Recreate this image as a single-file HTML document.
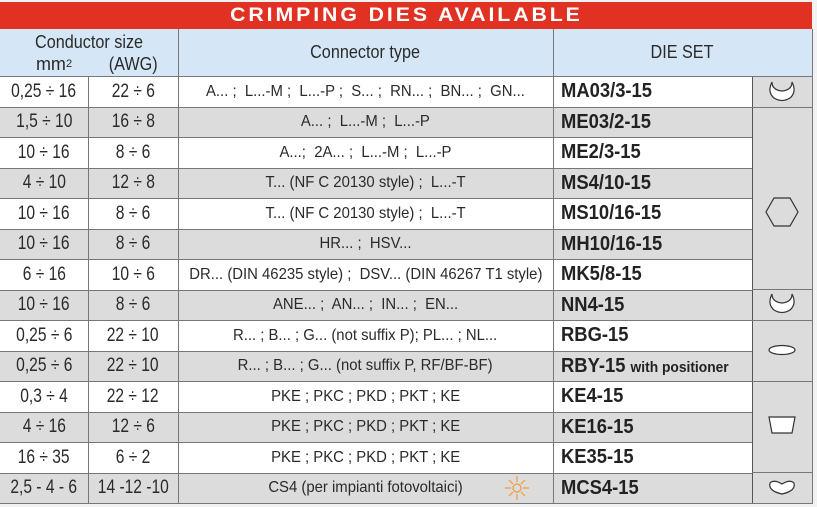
<!DOCTYPE html>
<html><head><meta charset="utf-8"><style>
*{margin:0;padding:0;box-sizing:border-box}
body{width:817px;height:507px;background:#f2f2f2;position:relative;overflow:hidden;font-family:"Liberation Sans",sans-serif;color:#2a2a2a}
.a{position:absolute;display:flex;align-items:center;justify-content:center;white-space:nowrap}
.a span{display:inline-block}
.r{position:absolute;left:0;width:812px;height:31px;border-top:1px solid #777}
.v{position:absolute;width:1px;background:#777}
</style></head><body>
<div class="a" style="left:0;top:2px;width:812px;height:27px;background:#e03122;color:#fff;font-weight:900;font-size:19px;letter-spacing:2.6px"><span style="transform:scaleX(1.12)">CRIMPING DIES AVAILABLE</span></div>
<div style="position:absolute;left:0;top:29px;width:812px;height:47px;background:#d5e7f6"></div>
<div class="a" style="left:0;top:31px;width:178px;height:22px;font-size:18px"><span style="transform:scaleX(0.9)">Conductor size</span></div>
<div class="a" style="left:0;top:52px;width:88px;height:24px;font-size:18px;padding-left:20px">mm<sup style="font-size:11px;vertical-align:8px">2</sup></div>
<div class="a" style="left:88px;top:52px;width:90px;height:24px;font-size:18px"><span style="transform:scaleX(0.9)">(AWG)</span></div>
<div class="a" style="left:178px;top:29px;width:375px;height:47px;font-size:18px"><span style="transform:scaleX(0.9)">Connector type</span></div>
<div class="a" style="left:553px;top:29px;width:259px;height:47px;font-size:18px"><span style="transform:scaleX(0.9)">DIE SET</span></div>
<div id="rows"></div>
<script>
var d=[
["0,25 ÷ 16","22 ÷ 6","A... ;&nbsp; L...-M ;&nbsp; L...-P ;&nbsp; S... ;&nbsp; RN... ;&nbsp; BN... ;&nbsp; GN...","MA03/3-15"],
["1,5 ÷ 10","16 ÷ 8","A... ;&nbsp; L...-M ;&nbsp; L...-P","ME03/2-15"],
["10 ÷ 16","8 ÷ 6","A...;&nbsp; 2A... ;&nbsp; L...-M ;&nbsp; L...-P","ME2/3-15"],
["4 ÷ 10","12 ÷ 8","T... (NF C 20130 style) ;&nbsp; L...-T","MS4/10-15"],
["10 ÷ 16","8 ÷ 6","T... (NF C 20130 style) ;&nbsp; L...-T","MS10/16-15"],
["10 ÷ 16","8 ÷ 6","HR... ;&nbsp; HSV...","MH10/16-15"],
["6 ÷ 16","10 ÷ 6","DR... (DIN 46235 style) ;&nbsp; DSV... (DIN 46267 T1 style)","MK5/8-15"],
["10 ÷ 16","8 ÷ 6","ANE... ;&nbsp; AN... ;&nbsp; IN... ;&nbsp; EN...","NN4-15"],
["0,25 ÷ 6","22 ÷ 10","R... ; B... ; G... (not suffix P); PL... ; NL...","RBG-15"],
["0,25 ÷ 6","22 ÷ 10","R... ; B... ; G... (not suffix P, RF/BF-BF)","RBY-15 <span style='font-size:15px;font-weight:bold'>with positioner</span>"],
["0,3 ÷ 4","22 ÷ 12","PKE ; PKC ; PKD ; PKT ; KE","KE4-15"],
["4 ÷ 16","12 ÷ 6","PKE ; PKC ; PKD ; PKT ; KE","KE16-15"],
["16 ÷ 35","6 ÷ 2","PKE ; PKC ; PKD ; PKT ; KE","KE35-15"],
["2,5 - 4 - 6","14 -12 -10","CS4 (per impianti fotovoltaici)","MCS4-15"]];
var h="";
for(var i=0;i<14;i++){var y=76+i*30.5,bg=i%2?"#dcdcdc":"#fff";
h+='<div class="r" style="top:'+y+'px;background:'+bg+'"></div>';
h+='<div class="a" style="left:0;top:'+y+'px;width:88px;height:31px;font-size:19px"><span style="transform:scaleX(0.82)">'+d[i][0]+'</span></div>';
h+='<div class="a" style="left:88px;top:'+y+'px;width:90px;height:31px;font-size:19px"><span style="transform:scaleX(0.82)">'+d[i][1]+'</span></div>';
h+='<div class="a" style="left:178px;top:'+y+'px;width:375px;height:31px;font-size:16px"><span style="transform:scaleX(0.93)">'+d[i][2]+'</span></div>';
h+='<div class="a" style="left:561px;top:'+y+'px;height:31px;font-size:20px;font-weight:bold;justify-content:flex-start;color:#222"><span style="transform:scaleX(0.92);transform-origin:left">'+d[i][3]+'</span></div>';}
h+='<div style="position:absolute;left:752px;top:76px;width:60px;height:427px;background:#dcdcdc;border-left:1px solid #555"></div>';
[76,106.5,289,320,381,472,503].forEach(function(y){h+='<div style="position:absolute;left:752px;top:'+y+'px;width:60px;height:1px;background:#777"></div>'});
h+='<div style="position:absolute;left:0;top:503px;width:812px;height:1px;background:#777"></div>';
h+='<div class="v" style="left:88px;top:76px;height:427px"></div><div class="v" style="left:178px;top:29px;height:474px"></div><div class="v" style="left:553px;top:29px;height:474px"></div><div class="v" style="left:812px;top:29px;height:475px"></div>';
document.getElementById("rows").innerHTML=h;
</script>
<svg style="position:absolute;left:752px;top:76px" width="60" height="427">
<g fill="#fff" stroke="#333" stroke-width="1.2">
<path d="M20,6 Q15,16 22,22 Q30,27 38,22 Q45,16 40,6 Q40,14 30,15 Q20,14 20,6Z"/>
<path d="M22,122 L38,122 L46,136 L38,150 L22,150 L14,136Z" fill="none"/>
<path d="M20,218 Q15,228 22,234 Q30,239 38,234 Q45,228 40,218 Q40,226 30,227 Q20,226 20,218Z"/>
<ellipse cx="30" cy="274" rx="13" ry="4.5"/>
<path d="M17,341 L43,341 L40,357 L20,357Z"/>
<path d="M18,407 Q22,403 30,408 Q38,403 42,407 Q44,415 30,418 Q16,415 18,407Z"/>
</g></svg>
<svg style="position:absolute;left:502px;top:474px" width="30" height="28"><g stroke="#f39a3a" stroke-width="1.2" fill="none"><circle cx="15" cy="14" r="4"/><path d="M15,2V8M15,20V26M3,14H9M21,14H27M7,6L11,10M19,18L23,22M23,6L19,10M11,18L7,22"/></g></svg>
</body></html>
